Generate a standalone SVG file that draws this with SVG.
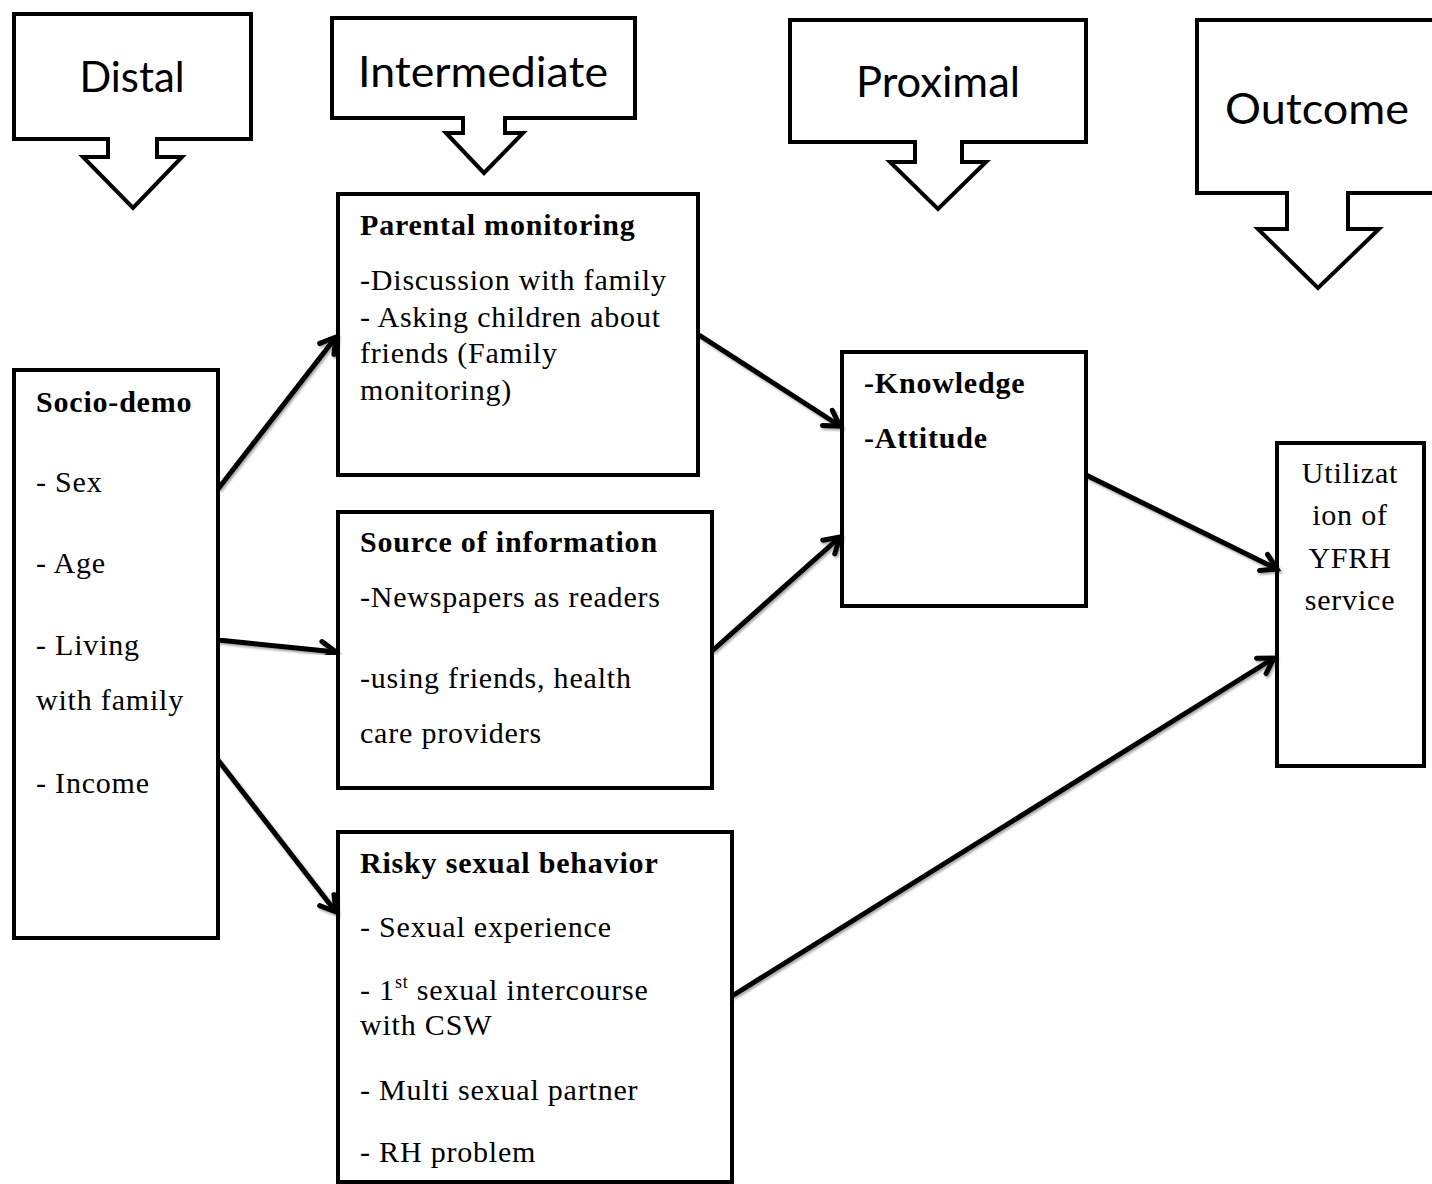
<svg xmlns="http://www.w3.org/2000/svg" width="1432" height="1184" viewBox="0 0 1432 1184">
<style>
.callout{fill:#fff;stroke:#000;stroke-width:4;stroke-linejoin:miter}
.box{fill:#fff;stroke:#000;stroke-width:4}
.ct{font-family:Lato,"Open Sans",sans-serif;font-size:42px;fill:#000;text-anchor:middle}
.t{font-family:"Liberation Serif","Times New Roman",serif;font-size:30px;letter-spacing:0.8px;fill:#000}
.b{font-weight:bold}
.conn{stroke:#000;stroke-width:5;fill:none;marker-end:url(#arr);filter:url(#sh)}
</style>
<defs>
<marker id="arr" markerUnits="userSpaceOnUse" markerWidth="24" markerHeight="24" viewBox="0 0 24 24" refX="20" refY="12" orient="auto">
<path d="M5,3 L20,12 L5,21" fill="none" stroke="#000" stroke-width="5" stroke-linecap="round" stroke-linejoin="miter"/>
</marker>
<filter id="sh" x="-10%" y="-10%" width="130%" height="130%">
<feDropShadow dx="1.5" dy="2" stdDeviation="1.2" flood-color="#000" flood-opacity="0.35"/>
</filter>
</defs>

<g id="callout-distal">
<path class="callout" d="M14,14 H251 V139 H157 V157 H182 L133,208 L83,157 H108 V139 H14 Z"/>
<text class="ct" x="132" y="92" textLength="105" lengthAdjust="spacingAndGlyphs">Distal</text>
</g>
<g id="callout-intermediate">
<path class="callout" d="M332,18 H635 V118 H505 V133 H523 L484,173 L446,133 H463 V118 H332 Z"/>
<text class="ct" x="483" y="87" textLength="250" lengthAdjust="spacingAndGlyphs">Intermediate</text>
</g>
<g id="callout-proximal">
<path class="callout" d="M790,20 H1086 V142 H962 V162 H986 L938,209 L890,162 H915 V142 H790 Z"/>
<text class="ct" x="938" y="97" textLength="164" lengthAdjust="spacingAndGlyphs">Proximal</text>
</g>
<g id="callout-outcome">
<path class="callout" d="M1197,20 H1440 V193 H1348 V229 H1379 L1318,288 L1258,229 H1287 V193 H1197 Z"/>
<text class="ct" x="1317" y="124" textLength="184" lengthAdjust="spacingAndGlyphs">Outcome</text>
</g>

<g id="socio-demo">
<rect class="box" x="14" y="370" width="204" height="568"/>
<text class="t b" x="36" y="412">Socio-demo</text>
<text class="t" x="36" y="492">- Sex</text>
<text class="t" x="36" y="573">- Age</text>
<text class="t" x="36" y="655">- Living</text>
<text class="t" x="36" y="710">with family</text>
<text class="t" x="36" y="793">- Income</text>
</g>

<g id="parental-monitoring">
<rect class="box" x="338" y="194" width="360" height="281"/>
<text class="t b" x="360" y="235">Parental monitoring</text>
<text class="t" x="360" y="290">-Discussion with family</text>
<text class="t" x="360" y="327">- Asking children about</text>
<text class="t" x="360" y="363">friends (Family</text>
<text class="t" x="360" y="400">monitoring)</text>
</g>

<g id="source-of-information">
<rect class="box" x="338" y="512" width="374" height="276"/>
<text class="t b" x="360" y="552">Source of information</text>
<text class="t" x="360" y="607">-Newspapers as readers</text>
<text class="t" x="360" y="688">-using friends, health</text>
<text class="t" x="360" y="743">care providers</text>
</g>

<g id="risky-sexual-behavior">
<rect class="box" x="338" y="832" width="394" height="350"/>
<text class="t b" x="360" y="873">Risky sexual behavior</text>
<text class="t" x="360" y="937">- Sexual experience</text>
<text class="t" x="360" y="1000">- 1<tspan font-size="18" dy="-12">st</tspan><tspan dy="12"> sexual intercourse</tspan></text>
<text class="t" x="360" y="1035">with CSW</text>
<text class="t" x="360" y="1100">- Multi sexual partner</text>
<text class="t" x="360" y="1162">- RH problem</text>
</g>

<g id="knowledge-attitude">
<rect class="box" x="842" y="352" width="244" height="254"/>
<text class="t b" x="864" y="393">-Knowledge</text>
<text class="t b" x="864" y="448">-Attitude</text>
</g>

<g id="utilization">
<rect class="box" x="1277" y="443" width="147" height="323"/>
<text class="t" x="1350" y="483" text-anchor="middle">Utilizat</text>
<text class="t" x="1350" y="525" text-anchor="middle">ion of</text>
<text class="t" x="1350" y="568" text-anchor="middle">YFRH</text>
<text class="t" x="1350" y="610" text-anchor="middle">service</text>
</g>

<g id="connectors">
<line class="conn" x1="218" y1="489" x2="336" y2="337"/>
<line class="conn" x1="218" y1="640" x2="336" y2="652"/>
<line class="conn" x1="218" y1="760" x2="336" y2="912"/>
<line class="conn" x1="699" y1="335" x2="840" y2="426"/>
<line class="conn" x1="712" y1="651" x2="840" y2="537"/>
<line class="conn" x1="1086" y1="475" x2="1277" y2="569"/>
<line class="conn" x1="732" y1="996" x2="1274" y2="658"/>
</g>
</svg>
